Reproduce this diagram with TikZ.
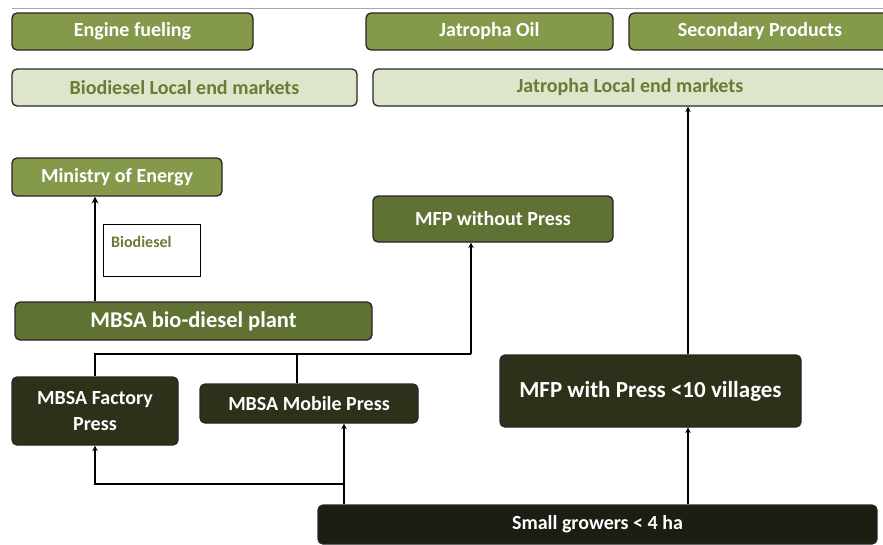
\documentclass[tikz,border=0pt]{standalone}
\usepackage{fontspec}
\setmainfont{Carlito}
\usepackage{tikz}
\usetikzlibrary{arrows}

\definecolor{olivemid}{HTML}{84994A}
\definecolor{olivedark}{HTML}{5F7233}
\definecolor{olivepale}{HTML}{DDE6CA}
\definecolor{olivetext}{HTML}{6A7B37}
\definecolor{bark}{HTML}{2C3219}
\definecolor{soil}{HTML}{1B1E12}

\tikzset{
	box/.style={draw=black!85, line width=1.3pt, rounded corners=5pt, text=white, align=center, inner sep=0pt, font=\bfseries\fontsize{20}{24}\selectfont},
	topbox/.style={box, fill=olivemid, minimum height=37pt},
	mktbox/.style={box, fill=olivepale, text=olivetext, minimum height=37pt},
	midbox/.style={box, fill=olivedark},
	darkbox/.style={box, fill=bark},
	link/.style={line width=1.4pt, draw=black},
	arr/.style={link, ->, >=stealth},
}

\begin{document}
\begin{tikzpicture}[x=1pt,y=-1pt]
	\useasboundingbox (0,0) rectangle (883,544);
	\draw[gray!70, line width=1pt] (12,8) -- (883,8);
	\node[topbox, minimum width=241pt] (engine) at (132.5,31.5) {Engine fueling};
	\node[topbox, minimum width=247pt] (jatoil) at (489.5,31.5) {Jatropha Oil};
	\node[topbox, minimum width=262pt] (secprod) at (760,31.5) {Secondary Products};
	\node[mktbox, minimum width=345pt] (biomkt) at (184.5,87.5) {Biodiesel Local end markets};
	\node[mktbox, minimum width=514pt] (jatmkt) at (630,87.5) {Jatropha Local end markets};
	\node[topbox, minimum width=210pt, minimum height=38pt] (ministry) at (117,177) {Ministry of Energy};
	\node[draw, line width=1pt, fill=white, minimum width=97pt, minimum height=52pt] (biolabel) at (151.5,250) {};
	\node[anchor=north west, inner sep=0pt, text=olivetext, font=\bfseries\fontsize{16}{19}\selectfont] (biotext) at (111,236) {Biodiesel};
	\node[midbox, minimum width=240pt, minimum height=46pt] (mfpnop) at (493,219) {MFP without Press};
	\node[midbox, minimum width=357pt, minimum height=38pt, font=\bfseries\fontsize{22.5}{27}\selectfont] (plant) at (193.5,321) {MBSA bio-diesel plant};
	\node[darkbox, minimum width=166pt, minimum height=68pt, font=\bfseries\fontsize{20}{26}\selectfont] (factory) at (95,411) {MBSA Factory\\Press};
	\node[darkbox, minimum width=218pt, minimum height=39pt] (mobile) at (309,403.5) {MBSA Mobile Press};
	\node[darkbox, minimum width=301pt, minimum height=72pt, font=\bfseries\fontsize{23}{27}\selectfont] (mfpwp) at (650.5,391) {MFP with Press <10 villages};
	\node[box, fill=soil, minimum width=559pt, minimum height=39pt] (growers) at (597.5,524.5) {Small growers < 4 ha};

	\coordinate (busw) at (95,354);
	\coordinate (busm) at (297,354);
	\coordinate (buse) at (471,354);
	\coordinate (fork) at (344,484);
	\coordinate (trunk) at (688,0);

	\draw[arr, line width=2pt] (plant.north -| factory.north) -- (ministry.south -| factory.north);
	\draw[link] (factory.north) -- (busw) -- (buse);
	\draw[link] (busm) -- (busm |- mobile.north);
	\draw[arr] (buse) -- (mfpnop.south -| buse);
	\draw[arr] (growers.north -| fork) -- (mobile.south -| fork);
	\draw[arr] (fork) -| (factory.south);
	\draw[arr] (growers.north -| trunk) -- (mfpwp.south -| trunk);
	\draw[arr] (mfpwp.north -| trunk) -- (jatmkt.south -| trunk);
\end{tikzpicture}
\end{document}
